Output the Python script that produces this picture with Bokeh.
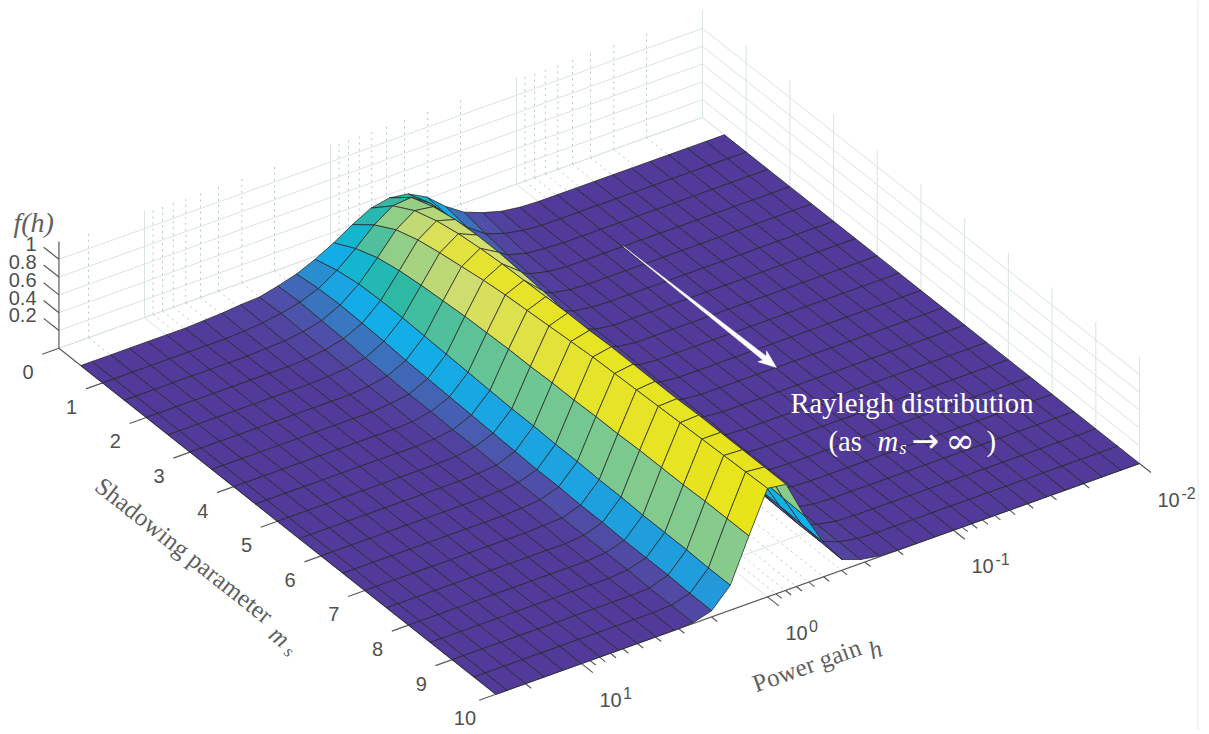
import numpy as np
from bokeh.core.properties import value
from bokeh.embed import file_html
from bokeh.models import ColumnDataSource, LinearColorMapper, Range1d
from bokeh.plotting import figure
from bokeh.resources import INLINE

# ---- data ----
MS = [0.5, 1, 1.5, 2, 2.5, 3, 3.5, 4, 4.5, 5, 5.5, 6, 6.5, 7, 7.5, 8, 8.5, 9, 9.5, 10]
# log10(h) of the grid, from 10^-2 up to about 29
LOG_H = [-2.0, -1.9, -1.8, -1.7, -1.6, -1.5, -1.4, -1.3, -1.2, -1.1, -1.0, -0.9,
         -0.8, -0.7, -0.6, -0.5, -0.4, -0.3, -0.2, -0.1, 0.0, 0.1, 0.2, 0.3,
         0.4, 0.5, 0.6, 0.7, 0.8, 0.9, 1.0, 1.1, 1.2, 1.3, 1.4, 1.46]
# f(h) for grid columns 10..29 (all other columns are 0), one row per m_s
FIRST_COL = 10
F_05 = [0, .01, .04, .10, .18, .32, .50, .61, .64, .60, .49, .36, .25, .16, .10, .05, .04, .02, .01, 0]
F_10 = [0, 0, .02, .06, .13, .28, .48, .70, .84, .82, .68, .49, .32, .19, .11, .06, .03, .01, 0, 0]
F_15 = [0, 0, .01, .03, .09, .22, .44, .72, .93, .96, .82, .58, .36, .20, .10, .05, .02, .01, 0, 0]
F_20 = [0, 0, 0, .02, .07, .18, .41, .72, .98, 1.04, .90, .63, .37, .19, .09, .04, .01, 0, 0, 0]
F_25 = [0, 0, 0, .01, .05, .15, .37, .71, 1.00, 1.09, .95, .66, .37, .18, .07, .03, .01, 0, 0, 0]
F_30 = [0, 0, 0, .01, .04, .13, .34, .68, 1.00, 1.12, .99, .68, .36, .16, .06, .02, 0, 0, 0, 0]
F_35 = [0, 0, 0, 0, .03, .11, .31, .65, .98, 1.14, 1.03, .70, .35, .15, .05, .02, 0, 0, 0, 0]
F_40 = [0, 0, 0, 0, .03, .10, .28, .62, .96, 1.15, 1.06, .71, .34, .14, .05, .01, 0, 0, 0, 0]
F_45 = [0, 0, 0, 0, .02, .09, .26, .59, .93, 1.16, 1.08, .72, .33, .13, .04, .01, 0, 0, 0, 0]
F_50 = [0, 0, 0, 0, .02, .08, .24, .56, .90, 1.17, 1.10, .72, .32, .12, .04, .01, 0, 0, 0, 0]
F_55 = [0, 0, 0, 0, .02, .08, .22, .53, .88, 1.17, 1.12, .73, .32, .11, .03, .01, 0, 0, 0, 0]
F_60 = [0, 0, 0, 0, .02, .07, .20, .50, .86, 1.18, 1.14, .73, .31, .10, .03, .01, 0, 0, 0, 0]
F_65 = [0, 0, 0, 0, .01, .07, .18, .48, .84, 1.18, 1.15, .74, .31, .10, .03, .01, 0, 0, 0, 0]
F_70 = [0, 0, 0, 0, .01, .06, .17, .46, .82, 1.18, 1.16, .74, .30, .09, .02, .01, 0, 0, 0, 0]
F_75 = [0, 0, 0, 0, .01, .06, .16, .44, .81, 1.18, 1.17, .75, .30, .09, .02, 0, 0, 0, 0, 0]
F_80 = [0, 0, 0, 0, .01, .05, .15, .43, .80, 1.19, 1.18, .75, .29, .08, .02, 0, 0, 0, 0, 0]
F_85 = [0, 0, 0, 0, .01, .05, .14, .42, .79, 1.19, 1.19, .75, .29, .08, .02, 0, 0, 0, 0, 0]
F_90 = [0, 0, 0, 0, .01, .05, .13, .41, .78, 1.19, 1.20, .76, .29, .08, .01, 0, 0, 0, 0, 0]
F_95 = [0, 0, 0, 0, .01, .05, .13, .40, .77, 1.19, 1.21, .76, .28, .07, .01, 0, 0, 0, 0, 0]
F_100 = [0, 0, 0, 0, .01, .045, .12, .39, .76, 1.19, 1.22, .76, .28, .07, .01, 0, 0, 0, 0, 0]
ROWS = [F_05, F_10, F_15, F_20, F_25, F_30, F_35, F_40, F_45, F_50,
        F_55, F_60, F_65, F_70, F_75, F_80, F_85, F_90, F_95, F_100]

MS_TICKS = [0, 1, 2, 3, 4, 5, 6, 7, 8, 9, 10]
Z_TICKS = [0.2, 0.4, 0.6, 0.8, 1.0]
Z_LABELS = ["0.2", "0.4", "0.6", "0.8", "1"]
H_DECADES = [-2, -1, 0, 1]
H_DEC_LABELS = ["10", "10", "10", "10"]
H_DEC_SUPS = ["-2", "-1", "0", "1"]
H_MINOR = [2, 3, 4, 5, 6, 7, 8, 9]
LOG_H_MAX = 1.46
Z_TOP = 1.2
ARROW_MS = [2.0, 5.5]
ARROW_LOG_H = -1.105

# ---- oblique projection of the 3D box onto the page ----
OX, OY = 702.0, 117.0
MX, MY = 43.7, 34.6
HX, HY = -186.0, 66.7
ZP = 89.0


def px(ms, lh):
    return OX + MX * np.asarray(ms, float) + HX * (np.asarray(lh, float) + 2)


def py(ms, lh, z=0.0):
    return OY + MY * np.asarray(ms, float) + HY * (np.asarray(lh, float) + 2) - ZP * np.asarray(z, float)


W, H = 1205, 730
p = figure(width=W, height=H, x_range=Range1d(0, W), y_range=Range1d(H, 0),
           toolbar_location=None, output_backend="svg", min_border=0,
           x_axis_location=None, y_axis_location=None, outline_line_color=None,
           background_fill_color="white", border_fill_color="white")
p.xgrid.visible = False
p.ygrid.visible = False

# ---- walls and floor grid ----
minors = [d + np.log10(m) for d in H_DECADES[:-1] for m in H_MINOR] + [1 + np.log10(m) for m in (2,)]
SOLID, DOT = "#dae4e5", "#bcc6c8"


def seg(color, xs0, ys0, xs1, ys1, width=1.0, dash="solid", alpha=1.0):
    p.segment(xs0, ys0, xs1, ys1, line_color=color, line_width=width, line_dash=dash, line_alpha=alpha)


# z lines on both back walls
zs = [0.0] + Z_TICKS
seg(SOLID, [px(0, LOG_H_MAX)] * 6, [py(0, LOG_H_MAX, z) for z in zs], [px(0, -2)] * 6, [py(0, -2, z) for z in zs])
seg(SOLID, [px(0, -2)] * 6, [py(0, -2, z) for z in zs], [px(10, -2)] * 6, [py(10, -2, z) for z in zs])
# verticals on the m_s = 0 wall and h lines on the floor
seg(SOLID, [px(0, d) for d in H_DECADES], [py(0, d) for d in H_DECADES],
    [px(0, d) for d in H_DECADES], [py(0, d, Z_TOP) for d in H_DECADES])
seg(DOT, [px(0, d) for d in minors], [py(0, d) for d in minors],
    [px(0, d) for d in minors], [py(0, d, Z_TOP) for d in minors], dash="2 4")
seg(SOLID, [px(0, d) for d in H_DECADES], [py(0, d) for d in H_DECADES],
    [px(10, d) for d in H_DECADES], [py(10, d) for d in H_DECADES])
seg(DOT, [px(0, d) for d in minors], [py(0, d) for d in minors],
    [px(10, d) for d in minors], [py(10, d) for d in minors], dash="2 4")
# verticals on the h = 10^-2 wall and m_s lines on the floor
seg(SOLID, [px(m, -2) for m in MS_TICKS], [py(m, -2) for m in MS_TICKS],
    [px(m, -2) for m in MS_TICKS], [py(m, -2, Z_TOP) for m in MS_TICKS])
seg(SOLID, [px(m, -2) for m in MS_TICKS], [py(m, -2) for m in MS_TICKS],
    [px(m, LOG_H_MAX) for m in MS_TICKS], [py(m, LOG_H_MAX) for m in MS_TICKS])

# ---- axes ----
AXC = "#5a5a5a"
seg(AXC, [px(0, LOG_H_MAX)], [py(0, LOG_H_MAX)], [px(0, LOG_H_MAX)], [py(0, LOG_H_MAX, Z_TOP)], 1.2)
seg(AXC, [px(0, LOG_H_MAX)], [py(0, LOG_H_MAX)], [px(10, LOG_H_MAX)], [py(10, LOG_H_MAX)], 1.2)
seg(AXC, [px(10, LOG_H_MAX)], [py(10, LOG_H_MAX)], [px(10, -2)], [py(10, -2)], 1.2)
# z ticks point along -m_s
seg(AXC, [px(0, LOG_H_MAX)] * 5, [py(0, LOG_H_MAX, z) for z in Z_TICKS],
    [px(-0.35, LOG_H_MAX)] * 5, [py(-0.35, LOG_H_MAX, z) for z in Z_TICKS], 1.2)
# m_s ticks point along +log h
seg(AXC, [px(m, LOG_H_MAX) for m in MS_TICKS], [py(m, LOG_H_MAX) for m in MS_TICKS],
    [px(m, LOG_H_MAX + 0.09) for m in MS_TICKS], [py(m, LOG_H_MAX + 0.09) for m in MS_TICKS], 1.2)
# h ticks point along +m_s
seg(AXC, [px(10, d) for d in H_DECADES], [py(10, d) for d in H_DECADES],
    [px(10.26, d) for d in H_DECADES], [py(10.26, d) for d in H_DECADES], 1.2)
seg(AXC, [px(10, d) for d in minors], [py(10, d) for d in minors],
    [px(10.13, d) for d in minors], [py(10.13, d) for d in minors], 1.2)

# ---- surface ----
STOPS = [0.0, 0.08, 0.16, 0.24, 0.32, 0.42, 0.52, 0.62, 0.72, 0.82, 0.92, 1.0]
COLS = ["#523a9a", "#4f4ea8", "#3878c0", "#1f9fde", "#0fb2ea", "#16b6c8", "#2fb9a4",
        "#86cb8c", "#9bd184", "#d3de6c", "#e6e330", "#e8e418"]
rgb = np.array([[int(c[i:i + 2], 16) for i in (1, 3, 5)] for c in COLS], float)
t = np.linspace(0, 1, 256)
palette = ["#%02x%02x%02x" % tuple(int(round(np.interp(v, STOPS, rgb[:, i]))) for i in range(3)) for v in t]

Z = np.zeros((len(MS), len(LOG_H)))
for j, row in enumerate(ROWS):
    Z[j, FIRST_COL:FIRST_COL + len(row)] = row

cells = []
for j in range(len(MS) - 1):
    for k in range(len(LOG_H) - 1):
        ms = [MS[j], MS[j], MS[j + 1], MS[j + 1]]
        lh = [LOG_H[k], LOG_H[k + 1], LOG_H[k + 1], LOG_H[k]]
        zz = [Z[j, k], Z[j, k + 1], Z[j + 1, k + 1], Z[j + 1, k]]
        depth = float(np.mean(py(ms, lh)))
        cells.append((depth, px(ms, lh).tolist(), py(ms, lh, zz).tolist(), float(Z[j, k])))
cells.sort(key=lambda c: c[0])
src = ColumnDataSource(dict(xs=[c[1] for c in cells], ys=[c[2] for c in cells], f=[c[3] for c in cells]))
mapper = LinearColorMapper(palette=palette, low=0, high=float(Z.max()))
p.patches("xs", "ys", source=src, fill_color={"field": "f", "transform": mapper},
          line_color="#262626", line_width=0.9, line_alpha=0.85, line_join="round")

# ---- arrow, on the floor along a line of constant h ----
ax0, ay0 = float(px(ARROW_MS[0], ARROW_LOG_H)), float(py(ARROW_MS[0], ARROW_LOG_H))
ax1, ay1 = float(px(ARROW_MS[1], ARROW_LOG_H)), float(py(ARROW_MS[1], ARROW_LOG_H))
L = np.hypot(ax1 - ax0, ay1 - ay0)
ux, uy = (ax1 - ax0) / L, (ay1 - ay0) / L
nx, ny = -uy, ux


def along(s, w):
    return ax0 + ux * s + nx * w, ay0 + uy * s + ny * w


pts = [along(0, 0), along(L - 15, -2.6), along(L - 18, -7.0), along(L, 0), along(L - 18, 7.0), along(L - 15, 2.6)]
p.patch([q[0] for q in pts], [q[1] for q in pts], fill_color="white", line_color="white", line_width=0.5)

# ---- texts ----
SANS = "Liberation Sans"
SERIF = "Liberation Serif"
TXT = "#505050"
SER = "#5f5f5f"


def txt(x, y, s, font, size, color=TXT, align="center", angle=0.0, style="normal", base="middle"):
    p.text([x], [y], text=[s], text_font=value(font), text_font_size=value(f"{size}px"), text_color=color,
           text_align=align, text_baseline=base, angle=[angle], text_font_style=style)


for m in MS_TICKS:
    txt(float(px(m, LOG_H_MAX)) - 31, float(py(m, LOG_H_MAX)) + 24, str(m), SANS, 20)
for z, s in zip(Z_TICKS, Z_LABELS):
    txt(36, float(py(0, LOG_H_MAX, z)) - 15, s, SANS, 20, align="right")
for d, s, sup in zip(H_DECADES, H_DEC_LABELS, H_DEC_SUPS):
    bx, by = float(px(10, d)), float(py(10, d))
    txt(bx + 29, by + 36, s, SANS, 20)
    txt(bx + 49 if len(sup) > 1 else bx + 46, by + 29, sup, SANS, 16)

ANG_M = -np.arctan2(MY, MX)
ANG_H = np.arctan2(HY, -HX)
txt(98, 482, "Shadowing parameter", SERIF, 25, SER, align="left", angle=ANG_M)
txt(272, 630, "m", SERIF, 25, SER, align="left", angle=ANG_M, style="italic")
txt(286, 649, "s", SERIF, 17, SER, align="left", angle=ANG_M, style="italic")
txt(753, 684, "Power gain", SERIF, 25, SER, align="left", angle=ANG_H)
txt(869, 651, "h", SERIF, 25, SER, align="left", angle=ANG_H, style="italic")
txt(13, 222, "f(h)", SERIF, 28, SER, align="left", style="italic")

txt(911.5, 402, "Rayleigh distribution", SERIF, 28.7, "white")
txt(828, 440, "(as", SERIF, 28.7, "white", align="left")
txt(877, 440, "m", SERIF, 28.7, "white", align="left", style="italic")
txt(899, 447, "s", SERIF, 18, "white", align="left", style="italic")
txt(911, 440, "\u2192", "DejaVu Sans", 33, "white", align="left")
txt(945, 440, "\u221e", "DejaVu Serif", 35, "white", align="left")
txt(986, 440, ")", SERIF, 28.7, "white", align="left")

# page edge line at the right of the picture
p.segment([1197.5], [0], [1197.5], [H], line_color="#e3eaec", line_width=1)

open("out.html", "w").write(file_html(p, INLINE))
